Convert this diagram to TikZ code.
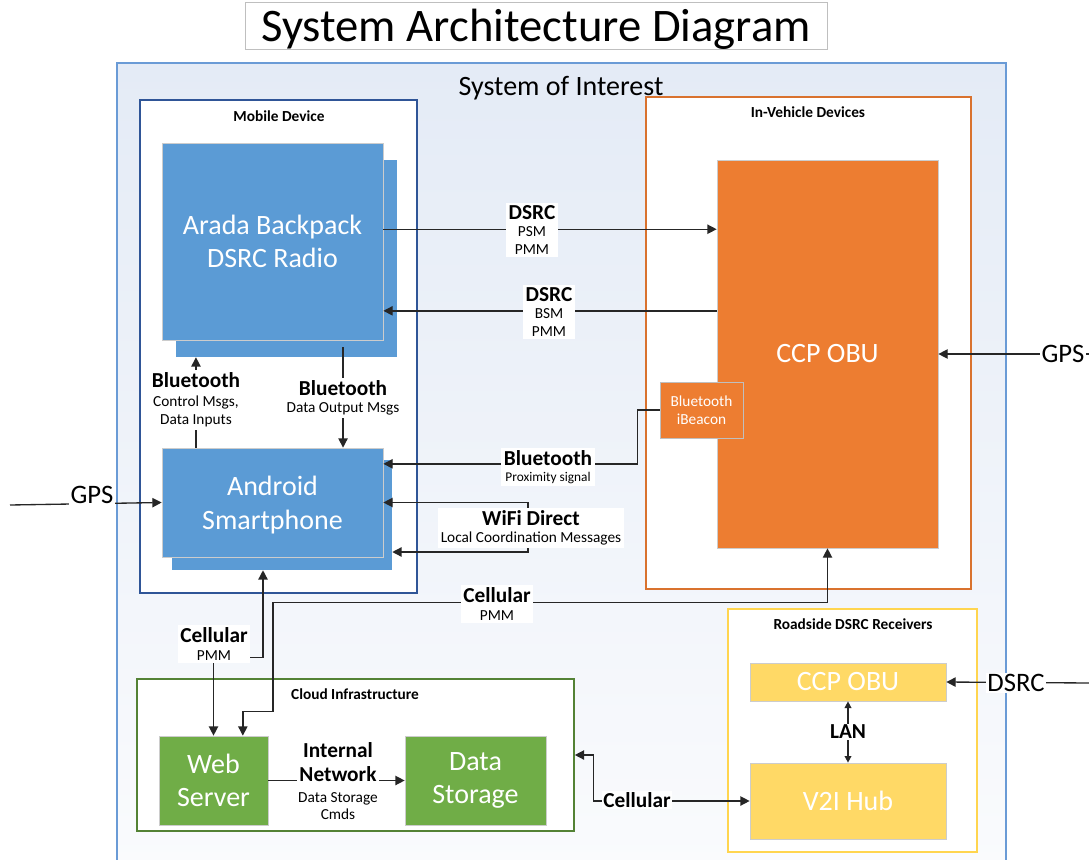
\documentclass[tikz,border=0pt]{standalone}
\usepackage{fontspec}
\setmainfont{Carlito}
\usetikzlibrary{arrows.meta,fit,positioning}

\definecolor{blu}{HTML}{5B9BD5}
\definecolor{blubrd}{HTML}{2F5597}
\definecolor{sysbrd}{HTML}{6A9BD6}
\definecolor{systop}{HTML}{E4EBF6}
\definecolor{sysbot}{HTML}{FAFBFD}
\definecolor{orng}{HTML}{ED7D31}
\definecolor{orngbrd}{HTML}{D9722E}
\definecolor{grn}{HTML}{70AD47}
\definecolor{grnbrd}{HTML}{548235}
\definecolor{gld}{HTML}{FFD966}
\definecolor{gldbrd}{HTML}{FFD54F}

\newcommand\linkname[1]{{\fontsize{16}{17}\selectfont\bfseries #1}}

\begin{document}
\begin{tikzpicture}[x=0.75pt,y=-0.75pt,
    every node/.style={inner sep=0pt},
    frame/.style={draw, fill=white, line width=1.2pt},
    framelbl/.style={font=\fontsize{11.5}{13}\selectfont\bfseries},
    part/.style={draw=black!20, line width=0.5pt},
    parttext/.style={text=white, align=center, font=\fontsize{21}{25}\selectfont},
    lbl/.style={fill=white, align=center, inner sep=2pt,
                font=\fontsize{11.5}{13}\selectfont},
    biglbl/.style={fill=white, inner sep=1pt, font=\fontsize{20}{24}\selectfont},
    arr/.style={draw=black!85, line width=1pt, -{Triangle[length=7pt,width=7pt]}},
    dblarr/.style={arr, {Triangle[length=7pt,width=7pt]}-{Triangle[length=7pt,width=7pt]}},
    smallarr/.style={arr, {Triangle[length=5pt,width=5pt]}-{Triangle[length=5pt,width=5pt]}}]

    \clip (0,0) rectangle (1089,860);

    %title
    \node[draw=black!25, fill=white, fit={(245,2) (827,49)}] (title) {};
    \node[font=\fontsize{35}{38}\selectfont] (titletext) at (536,29) {System Architecture Diagram};

    %system of interest
    \node[draw=sysbrd, line width=0.8pt, top color=systop, bottom color=sysbot,
          fit={(117,63) (1006,870)}] (sys) {};
    \node[font=\fontsize{21}{24}\selectfont] (systext) at (561,88) {System of Interest};

    %mobile device
    \node[frame, draw=blubrd, fit={(140,100) (417,593)}] (mobile) {};
    \node[framelbl] (mobiletext) at (279,116) {Mobile Device};
    \node[fill=blu, fit={(176,160) (397,357)}] (aradaB) {};
    \node[part, fill=blu, fit={(162,143) (383,340)}] (arada) {};
    \node[parttext] (aradatext) at (arada) {Arada Backpack\\DSRC Radio};
    \node[fill=blu, fit={(172,460) (392,570)}] (androidB) {};
    \node[part, fill=blu, fit={(162,448) (383,557)}] (android) {};
    \node[parttext] (androidtext) at ([yshift=-2pt]android.center) {Android\\Smartphone};

    %in-vehicle devices
    \node[frame, draw=orngbrd, line width=1.5pt, fit={(646,97) (971,589)}] (vehicle) {};
    \node[framelbl] (vehicletext) at (808,112) {In-Vehicle Devices};
    \node[part, fill=orng, fit={(717,160) (938,548)}] (obu) {};
    \node[parttext] (obutext) at (obu) {CCP OBU};
    \node[part, fill=orng, draw=black!25, fit={(660,382) (743,438)}] (beacon) {};
    \node[parttext, font=\fontsize{11.5}{13.5}\selectfont] (beacontext) at (beacon) {Bluetooth\\iBeacon};

    %roadside receivers
    \node[frame, draw=gldbrd, line width=1.5pt, fit={(728,609) (977,852)}] (roadside) {};
    \node[framelbl] (roadsidetext) at (853,624) {Roadside DSRC Receivers};
    \node[part, fill=gld, fit={(750,663) (946,701)}] (rsobu) {};
    \node[parttext] (rsobutext) at (rsobu) {CCP OBU};
    \node[part, fill=gld, fit={(750,763) (946,839)}] (hub) {};
    \node[parttext] (hubtext) at (hub) {V2I Hub};

    %cloud
    \node[frame, draw=grnbrd, fit={(137,679) (574,831)}] (cloud) {};
    \node[framelbl] (cloudtext) at (355,694) {Cloud Infrastructure};
    \node[part, fill=grn, fit={(159,736) (268,825)}] (web) {};
    \node[parttext] (webtext) at (web) {Web\\Server};
    \node[part, fill=grn, fit={(405,736) (546,825)}] (storage) {};
    \node[parttext] (storagetext) at (storage) {Data\\Storage};

    %connectors
    \draw[arr] ([yshift=9.2pt]arada.east) -- ([yshift=9.2pt]arada.east -| obu.west);
    \draw[arr] ([yshift=-52pt]arada.east -| obu.west) -- ([yshift=-52pt]arada.east);
    \draw[arr] ([xshift=-57.4pt]android.north) -- ([xshift=-57.4pt]android.north |- aradaB.south);
    \draw[arr] ([xshift=52.9pt,yshift=-5pt]arada.south) -- ([xshift=52.9pt]android.north);
    \draw[arr] (beacon.west) -- ++(-22,0) |- ([yshift=29pt]android.east);
    \coordinate (wifiR) at (528,527);
    \draw[arr] (wifiR) |- (android.east);
    \draw[arr] (wifiR) |- ([yshift=-27.75pt]androidB.east);
    \draw[dblarr] (web.north) -- ++(0,-78) -| ([xshift=-14.25pt]androidB.south);
    \draw[dblarr] ([xshift=22pt]web.north) -- ++(0,-24) -- ++(30,0) -- ++(0,-109) -| (obu.south);
    \coordinate (gpsL) at (10,505);
    \draw[arr] (gpsL) -- (android.west);
    \coordinate (gpsR) at (1089,354);
    \draw[arr] (gpsR) -- (obu.east);
    \coordinate (dsrcR) at (1089,683);
    \draw[arr] (dsrcR) -- (rsobu.east);
    \draw[smallarr] (rsobu.south) -- (hub.north);
    \draw[dblarr] (hub.west) -- ++(-156,0) |- (cloud.east);
    \draw[arr] (web.east) -- (storage.west);

    %connector labels
    \node[lbl] (dsrcA) at (532,230) {\linkname{DSRC}\\PSM\\PMM};
    \node[lbl] (dsrcB) at (549,312) {\linkname{DSRC}\\BSM\\PMM};
    \node[lbl, font=\fontsize{11.5}{14}\selectfont] (btctl) at (196,400) {\linkname{Bluetooth}\\Control Msgs,\\Data Inputs};
    \node[lbl] (btout) at (343,398) {\linkname{Bluetooth}\\Data Output Msgs};
    \node[lbl, font=\fontsize{10}{12}\selectfont] (btprox) at (548,467) {\linkname{Bluetooth}\\Proximity signal};
    \node[lbl] (wifi) at (531,528) {\linkname{WiFi Direct}\\Local Coordination Messages};
    \node[lbl] (cellL) at (214,644) {\linkname{Cellular}\\PMM};
    \node[lbl] (cellR) at (497,604) {\linkname{Cellular}\\PMM};
    \node[lbl, inner sep=1pt] (inet) at (338,781) {\linkname{Internal}\\[5pt]\linkname{Network}\\[3pt]Data Storage\\Cmds};
    \node[lbl, inner sep=1pt] (lan) at (848,732) {\linkname{LAN}};
    \node[lbl, inner sep=1pt] (cellB) at (637,800) {\linkname{Cellular}};
    \node[biglbl, anchor=base] (gpsLtext) at (92,503) {GPS};
    \node[biglbl] (gpsRtext) at (1063,354) {GPS};
    \node[biglbl] (dsrcRtext) at (1016,683) {DSRC};
\end{tikzpicture}
\end{document}
